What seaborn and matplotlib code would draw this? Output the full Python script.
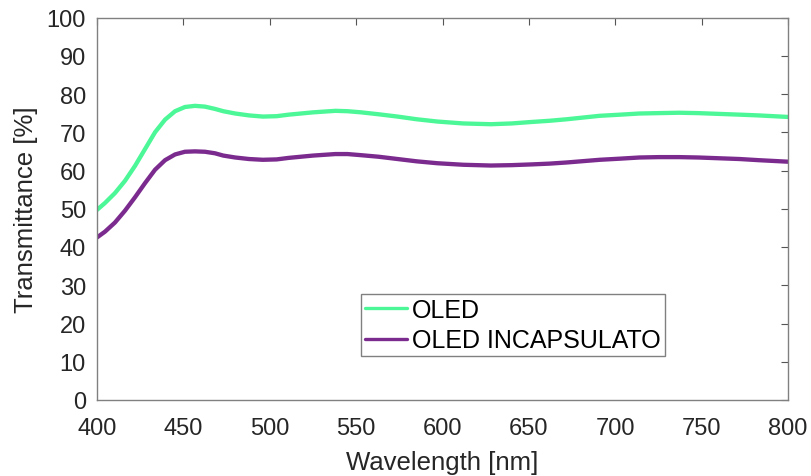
import matplotlib
matplotlib.use("Agg")
import matplotlib.pyplot as plt
import seaborn as sns
import pandas as pd

wavelength = [400, 404.6, 410.4, 416.2, 422, 427.8, 433.6, 439.4, 445.2, 450.9, 456.7, 462.5,
              468.3, 473.1, 480, 488, 496, 504, 511, 518, 525, 538, 545, 553, 563, 574,
              585, 597, 612, 628, 640, 652, 662, 672, 691, 703, 714, 725, 737, 748, 760,
              772, 783, 800]
oled = [49.7, 51.5, 54.1, 57.3, 61.2, 65.6, 70.0, 73.3, 75.5, 76.6, 76.9, 76.7,
        76.1, 75.5, 74.9, 74.4, 74.1, 74.2, 74.6, 74.9, 75.2, 75.6, 75.5, 75.2, 74.7, 74.1,
        73.4, 72.8, 72.3, 72.1, 72.3, 72.7, 73.0, 73.4, 74.3, 74.6, 74.9, 75.0, 75.1, 75.0, 74.8,
        74.6, 74.4, 74.0]
oled_inc = [42.5, 44.0, 46.4, 49.5, 53.0, 56.7, 60.2, 62.7, 64.2, 64.9, 65.0, 64.9,
            64.5, 63.9, 63.4, 63.0, 62.8, 62.9, 63.3, 63.6, 63.9, 64.3, 64.3, 64.0, 63.6, 63.0,
            62.4, 61.9, 61.5, 61.3, 61.4, 61.6, 61.8, 62.1, 62.8, 63.1, 63.4, 63.5, 63.5, 63.4, 63.2,
            63.0, 62.7, 62.3]
series_names = ["OLED", "OLED INCAPSULATO"]
colors = ["#4cf797", "#7b2b8e"]
xticks = [400, 450, 500, 550, 600, 650, 700, 750, 800]
yticks = list(range(0, 101, 10))

df = pd.DataFrame({
    "Wavelength": wavelength * 2,
    "T": oled + oled_inc,
    "Serie": [series_names[0]] * len(wavelength) + [series_names[1]] * len(wavelength),
})

sns.set_theme(style="white")
plt.rcParams["font.family"] = ["Liberation Sans", "DejaVu Sans"]

fig = plt.figure(figsize=(8.11, 4.77), dpi=100)
ax = fig.add_axes([97 / 811, 1 - 401 / 477, (788 - 97) / 811, (401 - 18.5) / 477])

sns.lineplot(data=df, x="Wavelength", y="T", hue="Serie", palette=colors,
             linewidth=3.1, ax=ax)

ax.set_xlim(400, 800)
ax.set_ylim(0, 100)
ax.set_xticks(xticks)
ax.set_yticks(yticks)
tick_col = "#262626"
ax.tick_params(direction="in", length=5, width=0.8, colors="#555555",
               labelcolor=tick_col, labelsize=17, top=True, right=True)
ax.tick_params(axis="x", pad=12)
ax.tick_params(axis="y", pad=8)
for s in ax.spines.values():
    s.set_color("#808080")
    s.set_linewidth(1.0)
ax.set_xlabel("Wavelength [nm]", fontsize=18.5, color=tick_col, labelpad=8)
ax.set_ylabel("Transmittance [%]", fontsize=18.5, color=tick_col, labelpad=6)

leg = ax.legend(loc="upper left", bbox_to_anchor=((361 - 97) / 691, (401 - 295) / 382.5),
                borderaxespad=0, fontsize=18, frameon=True, fancybox=False,
                framealpha=1, edgecolor="#808080", handlelength=1.68,
                handletextpad=0.2, labelspacing=0.25, borderpad=0.16)
leg.get_frame().set_linewidth(1.0)
for t in leg.get_texts():
    t.set_color("#000000")
for l in leg.get_lines():
    l.set_linewidth(2.4)

fig.savefig("out.png", dpi=100)
